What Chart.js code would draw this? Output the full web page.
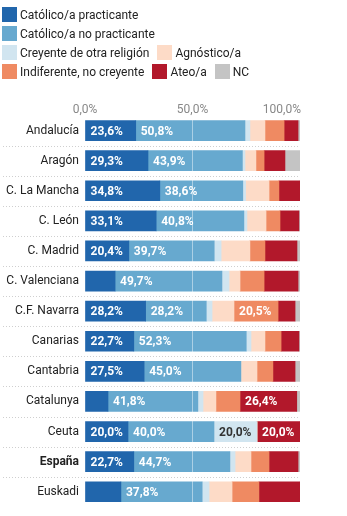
<!DOCTYPE html>
<html>
<head>
<meta charset="utf-8">
<script src="https://cdn.jsdelivr.net/npm/chart.js@4/dist/chart.umd.min.js"></script>
<style>
  html, body { margin: 0; padding: 0; background: #fff; overflow: hidden; }
  body { width: 347px; height: 516px; position: relative; font-family: Roboto, sans-serif; }
  #legend { position: absolute; top: 7px; left: 2px; width: 262px; display: flex; flex-wrap: wrap; z-index: 2; }
  .item { display: flex; align-items: center; height: 15px; margin: 0 8px 4px 0; font-size: 12px; color: #222; white-space: nowrap; }
  .item span.box { width: 15px; height: 15px; margin-right: 3px; display: inline-block; }
  #wrap { position: absolute; top: 0; left: 0; width: 347px; height: 520px; }
</style>
</head>
<body>
<div id="legend"></div>
<div id="wrap"><canvas id="religion"></canvas></div>
<script>
const categories = ['Andalucía', 'Aragón', 'C. La Mancha', 'C. León', 'C. Madrid', 'C. Valenciana', 'C.F. Navarra',
    'Canarias', 'Cantabria', 'Catalunya', 'Ceuta', 'España', 'Euskadi'];

const practicante   = [23.6, 29.3, 34.8, 33.1, 20.4, 14.0, 28.2, 22.7, 27.5, 10.7, 20.0, 22.7, 16.7];
const noPracticante = [50.8, 43.9, 38.6, 40.8, 39.7, 49.7, 28.2, 52.3, 45.0, 41.8, 40.0, 44.7, 37.8];
const otraReligion  = [2.3, 1.2, 1.3, 1.4, 3.2, 3.3, 2.7, 2.2, 0, 2.4, 20.0, 2.4, 3.2];
const agnostico     = [7.0, 5.1, 10.9, 8.9, 13.4, 5.1, 10.2, 6.5, 7.5, 6.0, 0, 7.4, 10.7];
const indiferente   = [8.9, 3.8, 4.6, 6.5, 7.0, 11.2, 20.5, 7.5, 7.4, 11.2, 0, 8.4, 12.5];
const ateo          = [6.5, 9.7, 9.8, 8.8, 14.9, 15.8, 7.9, 8.3, 10.3, 26.4, 20.0, 13.5, 19.1];
const nc            = [0.9, 7.0, 0, 0.5, 1.4, 0.9, 2.3, 0.5, 2.3, 1.5, 0, 0.9, 0];

const seriesNames = ['Católico/a practicante', 'Católico/a no practicante', 'Creyente de otra religión',
    'Agnóstico/a', 'Indiferente, no creyente', 'Ateo/a', 'NC'];
const seriesData = [practicante, noPracticante, otraReligion, agnostico, indiferente, ateo, nc];
const seriesColors = ['#2166ac', '#67a9cf', '#d1e5f0', '#fddbc7', '#ef8a62', '#b2182b', '#c4c4c4'];
const darkText = [false, false, true, true, false, false, true];

const xTicks = [0, 50, 100];

const fmt = v => v.toFixed(1).replace('.', ',') + '%';

// legend
const legend = document.getElementById('legend');
seriesNames.forEach((name, i) => {
    const item = document.createElement('div');
    item.className = 'item';
    item.innerHTML = '<span class="box" style="background:' + seriesColors[i] + '"></span>' + name;
    legend.appendChild(item);
});

Chart.defaults.font.family = 'Roboto';

// dotted separators between rows, from the labels to the end of the bars
const separators = {
    id: 'separators',
    beforeDatasetsDraw(chart) {
        const ctx = chart.ctx;
        const y = chart.scales.y;
        ctx.save();
        ctx.strokeStyle = '#cfcfcf';
        ctx.lineWidth = 1;
        ctx.setLineDash([1, 2]);
        for (let i = 0; i < categories.length - 1; i++) {
            const yy = Math.round((y.getPixelForValue(i) + y.getPixelForValue(i + 1)) / 2) + 0.5;
            ctx.beginPath();
            ctx.moveTo(3, yy);
            ctx.lineTo(chart.chartArea.right, yy);
            ctx.stroke();
        }
        ctx.restore();
    }
};

// percent labels inside the wider segments
const valueLabels = {
    id: 'valueLabels',
    afterDatasetsDraw(chart) {
        const ctx = chart.ctx;
        ctx.save();
        ctx.font = 'bold 12px Roboto';
        ctx.textAlign = 'left';
        ctx.textBaseline = 'middle';
        chart.data.datasets.forEach((ds, di) => {
            chart.getDatasetMeta(di).data.forEach((bar, i) => {
                const v = ds.data[i];
                if (v < 19.5) return;
                ctx.fillStyle = darkText[di] ? '#333' : '#fff';
                ctx.fillText(fmt(v), Math.min(bar.base, bar.x) + 5, bar.y + 1);
            });
        });
        ctx.restore();
    }
};

// axis labels on top; the last one is kept inside the bar area
const topTicks = {
    id: 'topTicks',
    afterDraw(chart) {
        const ctx = chart.ctx;
        const x = chart.scales.x;
        ctx.save();
        ctx.font = '12px Roboto';
        ctx.fillStyle = '#888';
        ctx.textBaseline = 'middle';
        xTicks.forEach((t, i) => {
            const last = i === xTicks.length - 1;
            ctx.textAlign = last ? 'right' : 'center';
            ctx.fillText(fmt(t), x.getPixelForValue(t) + (last ? 1 : 0), 110);
        });
        ctx.restore();
    }
};

new Chart(document.getElementById('religion'), {
    type: 'bar',
    data: {
        labels: categories,
        datasets: seriesData.map((d, i) => ({
            label: seriesNames[i],
            data: d,
            backgroundColor: seriesColors[i],
            borderWidth: 0,
            barThickness: 20
        }))
    },
    options: {
        indexAxis: 'y',
        responsive: true,
        maintainAspectRatio: false,
        animation: false,
        layout: { padding: { top: 115.5, bottom: 1.5, left: 0, right: 47 } },
        plugins: { legend: { display: false }, tooltip: { enabled: false } },
        scales: {
            x: {
                position: 'top',
                stacked: true,
                min: 0,
                max: 100,
                ticks: { display: false, stepSize: 50 },
                border: { display: false },
                grid: {
                    drawTicks: false,
                    z: 1,
                    color: c => (c.tick && c.tick.value === 50) ? 'rgba(255,255,255,0.45)' : 'transparent'
                }
            },
            y: {
                stacked: true,
                afterFit: s => { s.width = 85; },
                border: { display: false },
                grid: { display: false, drawTicks: false },
                ticks: {
                    padding: 6,
                    color: '#222',
                    font: c => ({ size: 12, weight: categories[c.index] === 'España' ? 'bold' : 'normal' })
                }
            }
        }
    },
    plugins: [separators, valueLabels, topTicks]
});
</script>
</body>
</html>
